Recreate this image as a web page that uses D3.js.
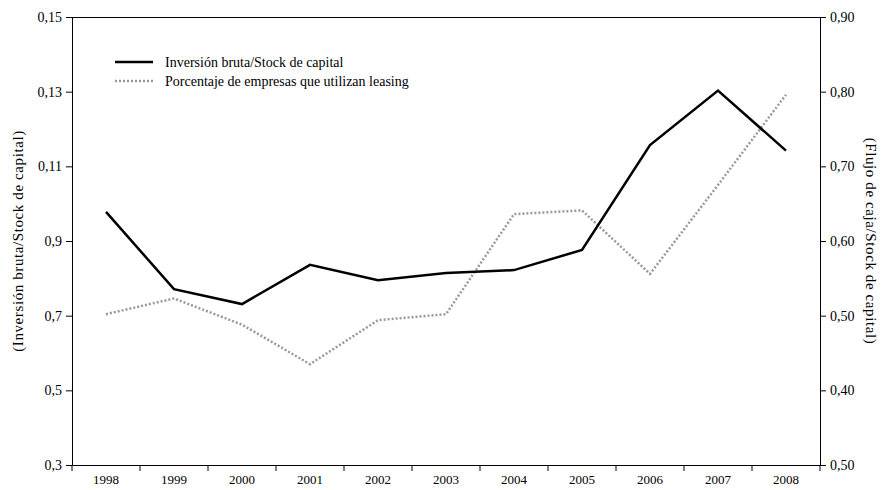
<!DOCTYPE html>
<html>
<head>
<meta charset="utf-8">
<script src="https://cdn.jsdelivr.net/npm/d3@7"></script>
<style>
  body { margin: 0; background: #fff; }
  svg text { font-family: "Liberation Serif", "Times New Roman", serif; fill: #000; }
</style>
</head>
<body>
<svg id="chart" width="885" height="490"></svg>
<script>
const years = ["1998","1999","2000","2001","2002","2003","2004","2005","2006","2007","2008"];
const inversion = [0.0978, 0.0771, 0.0731, 0.0836, 0.0795, 0.0814, 0.0822, 0.0876, 0.1157, 0.1303, 0.1142];
const leasing = [0.502, 0.523, 0.488, 0.435, 0.494, 0.502, 0.636, 0.641, 0.556, 0.675, 0.796];
const leftTickValues = [0.03, 0.05, 0.07, 0.09, 0.11, 0.13, 0.15];
const leftTickLabels = ["0,3", "0,5", "0,7", "0,9", "0,11", "0,13", "0,15"];
const rightTickValues = [0.30, 0.40, 0.50, 0.60, 0.70, 0.80, 0.90];
const rightTickLabels = ["0,50", "0,40", "0,50", "0,60", "0,70", "0,80", "0,90"];
const seriesNames = ["Inversión bruta/Stock de capital", "Porcentaje de empresas que utilizan leasing"];
const leftTitle = "(Inversión bruta/Stock de capital)";
const rightTitle = "(Flujo de caja/Stock de capital)";

const svg = d3.select("#chart");
const m = {left: 72, right: 820, top: 17, bottom: 465};
const x = d3.scaleBand().domain(years).range([m.left, m.right]).padding(0);
const yL = d3.scaleLinear().domain([0.03, 0.15]).range([m.bottom, m.top]);
const yR = d3.scaleLinear().domain([0.30, 0.90]).range([m.bottom, m.top]);
const fsY = 14, fsX = 13, fsLeg = 14, fsTitle = 15;

// top border
svg.append("line").attr("x1", m.left).attr("x2", m.right).attr("y1", m.top + 0.5).attr("y2", m.top + 0.5)
  .attr("stroke", "#000").attr("stroke-width", 1);

// left axis
const gL = svg.append("g").attr("transform", `translate(${m.left},0)`)
  .call(d3.axisLeft(yL).tickValues(leftTickValues).tickFormat((d, i) => leftTickLabels[i]).tickSize(6).tickSizeOuter(0).tickPadding(4));
// right axis
const gR = svg.append("g").attr("transform", `translate(${m.right},0)`)
  .call(d3.axisRight(yR).tickValues(rightTickValues).tickFormat((d, i) => rightTickLabels[i]).tickSize(6).tickSizeOuter(0).tickPadding(4));
// bottom axis (labels only)
const gB = svg.append("g").attr("transform", `translate(0,${m.bottom})`)
  .call(d3.axisBottom(x).tickSize(0).tickSizeOuter(0).tickPadding(10));
// bottom tick marks at band boundaries
svg.append("g").selectAll("line").data(years.map(y => x(y)).concat([x.range()[1]]))
  .join("line").attr("x1", d => d).attr("x2", d => d).attr("y1", m.bottom).attr("y2", m.bottom + 6)
  .attr("stroke", "#000");

[gL, gR, gB].forEach(g => {
  g.selectAll("path.domain").attr("stroke", "#000").attr("stroke-width", 1);
  g.selectAll(".tick line").attr("stroke", "#000");
  g.selectAll("text").style("font-family", '"Liberation Serif", serif').attr("fill", "#000");
});
gL.selectAll("text").style("font-size", fsY + "px");
gR.selectAll("text").style("font-size", fsY + "px");
gB.selectAll("text").style("font-size", fsX + "px");

// axis titles
svg.append("text").attr("transform", `translate(23,${(m.top + m.bottom) / 2}) rotate(-90)`)
  .attr("text-anchor", "middle").style("font-size", fsTitle + "px").style("letter-spacing", "0.6px").text(leftTitle);
svg.append("text").attr("transform", `translate(866,${(m.top + m.bottom) / 2}) rotate(90)`)
  .attr("text-anchor", "middle").style("font-size", fsTitle + "px").style("letter-spacing", "0.6px").text(rightTitle);

const cx = d => x(d) + x.bandwidth() / 2;
// lines
svg.append("path").datum(leasing)
  .attr("d", d3.line().x((d, i) => cx(years[i])).y(d => yR(d)))
  .attr("fill", "none").attr("stroke", "#999").attr("stroke-width", 2.5).attr("stroke-dasharray", "2,2");
svg.append("path").datum(inversion)
  .attr("d", d3.line().x((d, i) => cx(years[i])).y(d => yL(d)))
  .attr("fill", "none").attr("stroke", "#000").attr("stroke-width", 2.5).attr("stroke-linejoin", "miter");

// legend
const legend = svg.append("g");
const legY = [62, 81];
legend.append("line").attr("x1", 115).attr("x2", 153).attr("y1", legY[0]).attr("y2", legY[0])
  .attr("stroke", "#000").attr("stroke-width", 2.5);
legend.append("line").attr("x1", 115).attr("x2", 153).attr("y1", legY[1]).attr("y2", legY[1])
  .attr("stroke", "#999").attr("stroke-width", 2.5).attr("stroke-dasharray", "2,2");
seriesNames.forEach((n, i) => {
  legend.append("text").attr("x", 165).attr("y", legY[i]).attr("dy", "0.35em")
    .style("font-size", fsLeg + "px").text(n);
});
</script>
</body>
</html>
